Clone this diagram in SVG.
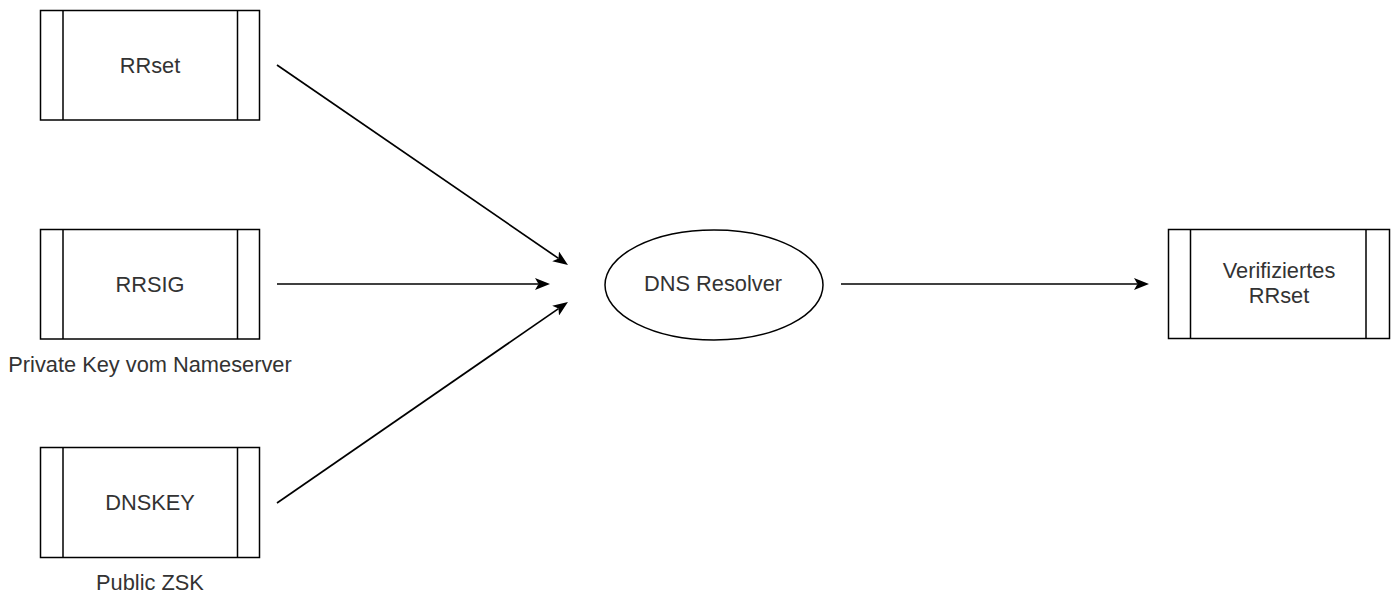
<svg xmlns="http://www.w3.org/2000/svg" width="1392" height="596" viewBox="0 0 1392 596">
<style>
.box{fill:#fff;stroke:#000;stroke-width:1.5}
.div{stroke:#000;stroke-width:1.5;fill:none}
.lbl{font-family:"Liberation Sans",Arial,sans-serif;font-size:21.8px;fill:#333;text-anchor:middle}
.edge{stroke:#000;stroke-width:1.7;fill:none;marker-end:url(#arr)}
</style>
<defs>
<marker id="arr" viewBox="0 0 15 12" refX="3.5" refY="6" markerWidth="15" markerHeight="12" markerUnits="userSpaceOnUse" orient="auto">
<path d="M0,0 L15,6 L0,12 L3.5,6 Z" fill="#000"/>
</marker>
</defs>
<g id="rrset">
<rect class="box" x="40.5" y="10.5" width="219" height="109.5"/>
<path class="div" d="M63,10.5 V120 M237.5,10.5 V120"/>
<text class="lbl" x="150" y="72.5">RRset</text>
</g>
<g id="rrsig">
<rect class="box" x="40.5" y="229.5" width="219" height="109.5"/>
<path class="div" d="M63,229.5 V339 M237.5,229.5 V339"/>
<text class="lbl" x="150" y="291.5">RRSIG</text>
<text class="lbl" x="150" y="372">Private Key vom Nameserver</text>
</g>
<g id="dnskey">
<rect class="box" x="40.5" y="447.5" width="219" height="110"/>
<path class="div" d="M63,447.5 V557.5 M237.5,447.5 V557.5"/>
<text class="lbl" x="150" y="509.5">DNSKEY</text>
<text class="lbl" x="150" y="590">Public ZSK</text>
</g>
<g id="resolver">
<ellipse class="box" cx="714" cy="285" rx="109" ry="55"/>
<text class="lbl" x="713" y="291">DNS Resolver</text>
</g>
<g id="verified">
<rect class="box" x="1168.5" y="229.5" width="221" height="109"/>
<path class="div" d="M1190.5,229.5 V338.5 M1366,229.5 V338.5"/>
<text class="lbl" x="1279" y="278">Verifiziertes</text>
<text class="lbl" x="1279" y="303">RRset</text>
</g>
<g id="connectors">
<line class="edge" x1="277" y1="65" x2="558.5" y2="258.4"/>
<line class="edge" x1="277" y1="284" x2="538.5" y2="284"/>
<line class="edge" x1="277" y1="503" x2="558.5" y2="308.6"/>
<line class="edge" x1="841" y1="284" x2="1137.5" y2="284"/>
</g>
</svg>
